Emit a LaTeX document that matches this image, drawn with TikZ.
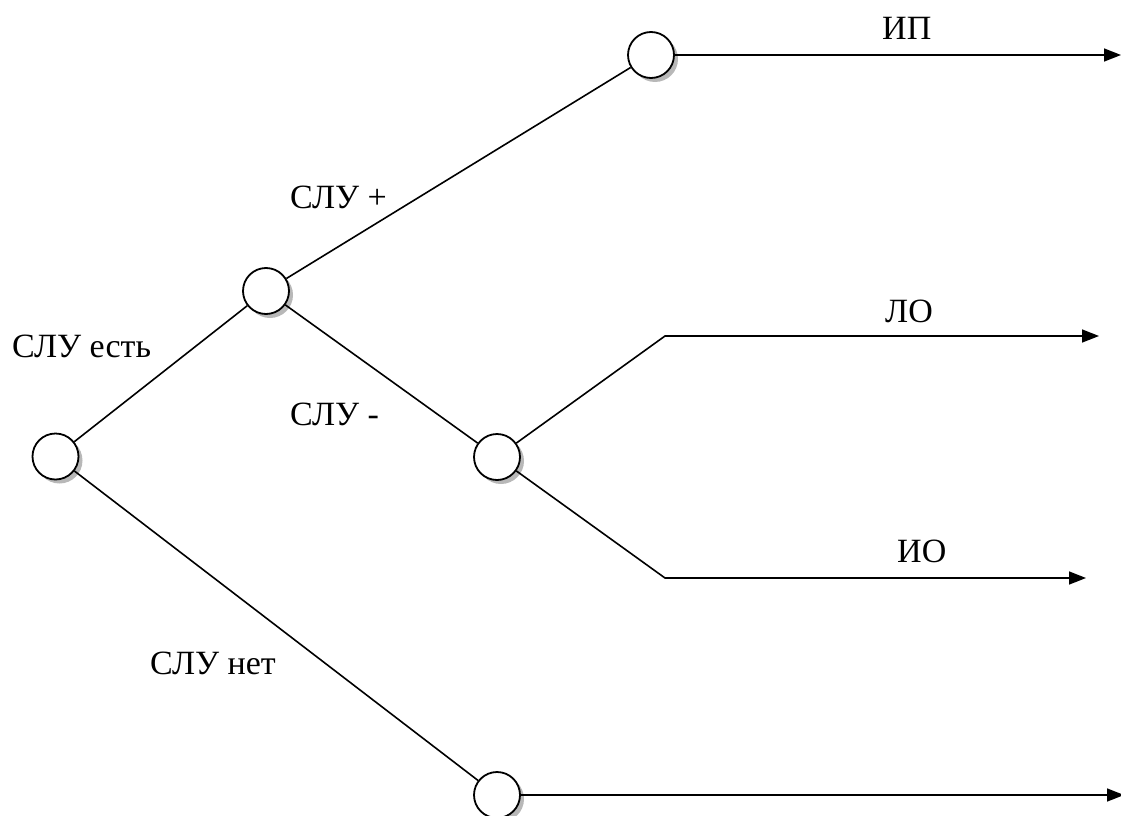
\documentclass[tikz,border=0pt]{standalone}
\usepackage{fontspec}
\setmainfont{Liberation Serif}
\usetikzlibrary{arrows.meta,shadows}
\begin{document}
\begin{tikzpicture}[x=1pt,y=-1pt,
  state/.style={circle,draw,line width=1.8pt,fill=white,minimum size=46pt,inner sep=0pt,
    drop shadow={shadow xshift=4pt,shadow yshift=-4pt,fill=gray!70,opacity=0.8}},
  conn/.style={line width=1.6pt},
  arr/.style={conn,-{Triangle[length=17pt,width=13pt]}},
  lbl/.style={font=\fontsize{34}{38}\selectfont,anchor=base west,inner sep=0pt}]
\useasboundingbox (0,0) rectangle (1121,816);
\node[state] (a) at (55.5,456.5) {};
\node[state] (b) at (266,291) {};
\node[state] (c) at (651,55) {};
\node[state] (d) at (497,457) {};
\node[state] (e) at (497,795) {};
\coordinate (lo) at (665,336);
\coordinate (io) at (665,578);
\coordinate (ipend) at (1121,55);
\coordinate (loend) at (1099,336);
\coordinate (ioend) at (1086,578);
\coordinate (eend) at (1124,795);
\draw[conn] (a) -- (b);
\draw[conn] (a) -- (e);
\draw[conn] (b) -- (c);
\draw[conn] (b) -- (d);
\draw[arr] (c) -- (ipend);
\draw[arr] (d) -- (lo) -- (loend);
\draw[arr] (d) -- (io) -- (ioend);
\draw[arr] (e) -- (eend);
\node[lbl] (t1) at (12,357) {СЛУ есть};
\node[lbl] (t2) at (290,208) {СЛУ +};
\node[lbl] (t3) at (290,425) {СЛУ -};
\node[lbl] (t4) at (150,674) {СЛУ нет};
\node[lbl] (t5) at (882,40) {ИП};
\node[lbl] (t6) at (885,322) {ЛО};
\node[lbl] (t7) at (897,562) {ИО};
\end{tikzpicture}
\end{document}
